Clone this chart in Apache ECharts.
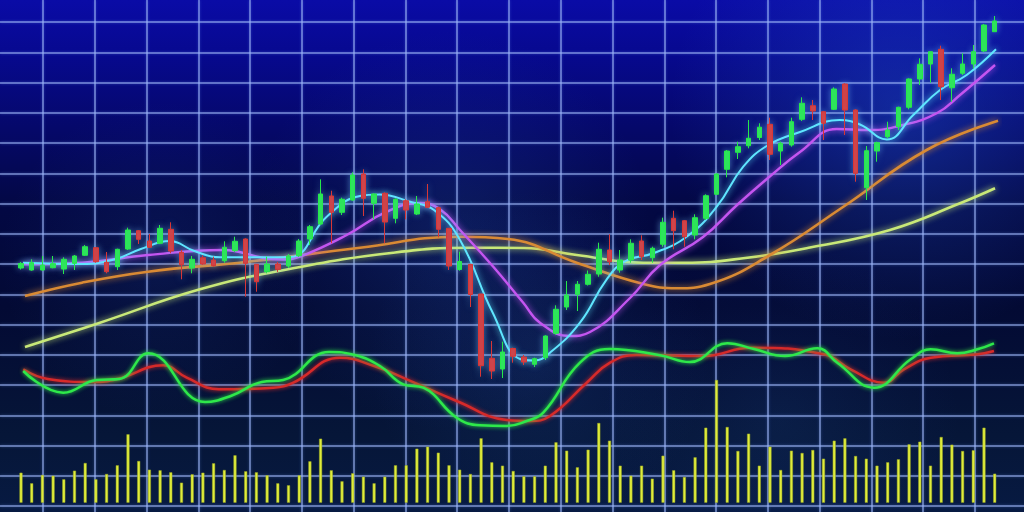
<!DOCTYPE html>
<html><head><meta charset="utf-8">
<script src="https://cdn.jsdelivr.net/npm/echarts@6/dist/echarts.min.js"></script>
<style>html,body{margin:0;padding:0;background:#030a42;}#c{width:1024px;height:512px;}</style>
</head><body><div id="c"></div>
<script>
// ---- DATA ----
const days = Array.from({length: 92}, (_, i) => 'D' + (i + 1));
// candles: [open, close, low, high]
const candles = [
[122,126.5,120.5,128],[120,127.3,119.3,130.7],[120,125,119.3,134],[122.3,126.3,121.7,134],[121,130.7,116,132.7],
[126.7,134,120,135],[134.7,143.3,134,145],[142.3,128.3,127.3,142.7],[127.7,118.3,116.7,138],[123.3,140.7,120,141.3],
[141,160,140,162.3],[159.3,150.7,146,160],[149,142.7,142,156],[146.7,161.7,146,165],[160.7,139,136.7,167.7],
[137.7,125.3,110.7,140],[122,130.7,116.7,134],[132.3,126,125.3,134.7],[130,124.3,123.3,133.3],[129.3,142.7,127.3,148.7],
[139.3,148.7,138,153.3],[151,126.7,93.3,151.7],[125.7,108.3,98.3,126],[118.3,126,116.7,133.3],[126,120.7,118,128],
[124,134,122,136],[134.3,149,133,151],[151,163.3,145,165],[166,196,165,210.7],[194,177.7,146.7,199.3],
[177.7,190.7,175,192.3],[190,215,189.3,217.7],[216,191.7,174,220.7],[186.7,196,170.7,196.7],[196.7,168,146.7,197.7],
[171.7,190.7,166.7,191.7],[189.3,180,170.7,190.7],[176,186,175,194],[188.3,182.7,182,206],[182.3,160.7,152.7,183.3],
[161.7,124,120,162],[120.5,128.5,119.3,138.3],[125.7,95.5,83,125.7],[96,24.3,13.3,96],[31.7,19,11,49],
[21,38,12,48.3],[41.5,33.7,27.3,42.3],[33,28,25,35],[25.7,31.3,23,32.3],[32.3,54,30,54.7],
[56.7,80.7,55.3,84.7],[83,95,80,109],[95.7,105.7,79,109],[105.7,115.7,104.5,119.5],[116,140.7,113.3,147.3],
[140,128.3,125,155.7],[120,130,117.3,140],[130,146.7,127.3,150.7],[149,133.3,130,154.7],[132.3,141.7,127.3,143.3],
[145.7,167.7,143.3,172.3],[171.7,159.3,140.7,179.3],[169.3,153.3,143.3,170],[155,172.3,150.7,175.7],[171.7,194.3,170,195.7],
[195.7,216,195,216.7],[220.7,239,212.7,240],[237.7,243.3,231,248.3],[244.3,251.7,241.7,270],[252.5,262.8,250,266.7],
[265.7,235.7,230,272.3],[239,246.7,225,248.3],[245,268.3,243.3,272.3],[270.7,286.7,269,292.7],[284.3,279,270,290],
[278.3,266.7,250,279],[280.7,301,280,302.7],[306,280,255,306.7],[280,216.7,208.3,280.7],[202.3,239.3,190,244],
[239,247.3,228.3,248.3],[253.3,260,251.7,268.3],[263.3,282.7,260,283.3],[282.7,311,280.7,311.7],[311,325.7,305,331.7],
[326,338.3,307.3,338.3],[340.7,303.3,290,344.3],[302.3,315.7,288.3,321.7],[316.7,326,315,336.7],[326,338.3,321.7,345],
[339,365,338,366],[358.3,369,358.3,374]
];
const volumes = [
30,19.4,27.7,27,23.4,32,39.7,23.4,28.7,37.4,68.4,41.7,33,32.4,30.4,20,28.4,30,39.4,32.7,
47.4,31.4,30.4,27.4,19.4,17.4,27.4,41.4,64,32.4,21.4,29.4,26,19.4,26,37.4,37.4,54,56,50,
37.4,33,28.7,64.4,40.4,37,31.7,26.4,26.4,37,60.4,52,35.4,53,79.7,62,37,27,37,24,
47,32.4,25.7,45.4,75,122.7,75.7,51.7,69,37,56,32.7,52,49.7,52.7,44,62,64.4,46.7,44,
37,40.4,43.4,58.4,61,37,65.7,58,51.7,52.4,75,29
];
// moving averages: [day index, price]
const maFast = [[0.19,127.3],[5.7,126],[8.79,130.7],[11.2,141],[13.9,149],[16.2,139],[18.6,132.7],[21.21,132.7],
[25.14,133],[28.57,173.3],[31.68,194],[33.5,195.5],[36.36,188.3],[38.6,180],[41.03,150],[44.11,76.7],[46.64,31],
[48,29.5],[49.44,37.3],[52.24,67.3],[54.74,110.7],[56.5,129],[59.09,136.7],[62.21,153.3],[65.02,183.3],[67.5,223.3],
[69.84,245],[72.8,258],[76.5,270],[78.41,265.5],[80.91,250.5],[83.39,275],[85.89,300],[88.38,315],[91.12,340.7]];
const maMid = [[0.19,125.7],[5.7,127.3],[11.87,135],[18.9,140],[22.8,131.7],[24.5,130.5],[26.07,133.3],[30.44,155],
[34.18,178.3],[37.3,187],[39.16,180.7],[41.03,160],[44.14,123.3],[46.94,87.3],[48.5,67.3],[51.31,54],[53.18,58],
[56.92,92],[59.72,125],[63.74,153],[66.92,185],[69.81,212],[72.8,238],[76.23,261],[79.35,260],[82.43,265],
[85.58,276.7],[87.76,295],[91.03,325]];
const maSlow = [[0.37,94],[5.7,107.3],[11.87,118.3],[21.21,128.3],[31.68,142.3],[41.03,153.3],[45.5,151],[51.93,127.3],
[58.16,106],[61.28,101.7],[64.39,106],[70,135],[76.82,183],[84.64,240],[91.31,269.3]];
const maLong = [[0.37,43],[7.38,67.3],[16.73,100.7],[25.42,121.7],[34.79,137.3],[42,142.3],[47,142],[51.93,135],
[58.16,127.3],[62,127.3],[67.5,131.7],[73.74,142.5],[81.21,160],[87.76,186.7],[91.03,201.7]];
// oscillator: [day index, value]
const oscFast = [[0.21,1.4],[3.95,-0.77],[7.07,0.5],[9.2,0.6],[11.9,3.17],[17.2,-1.7],[19.6,-1.1],[22.5,0.3],
[24.5,0.5],[28.8,3.3],[31.2,3.0],[33.55,1.9],[35.73,0.07],[37.6,-0.27],[40.72,-3.27],[42.9,-4.03],[45.39,-4.1],
[47.26,-3.6],[48.81,-2.77],[52.24,2.23],[55,3.6],[59.72,2.97],[62.5,2.3],[66.01,4.17],[68.5,3.6],[71.4,2.9],
[74.42,3.67],[76.29,2.23],[79.72,-0.27],[83.15,2.57],[85.02,3.57],[87.5,3.17],[89.38,3.57],[90.93,4.17]];
const oscSlow = [[0.21,1.57],[2.5,0.6],[6.75,0.3],[9,0.6],[13.29,1.97],[15.49,0.73],[18.5,-0.43],[23.58,-0.27],
[25.45,0.23],[29.81,2.73],[33,1.9],[36.05,0.57],[40.72,-1.6],[45.39,-3.5],[47.57,-3.6],[49.44,-3.1],[52.87,0.23],
[55.05,2.23],[57.5,3.0],[63.83,2.9],[68.2,3.73],[75.05,3.07],[77.53,1.57],[80.65,0.23],[82.52,1.57],[85.02,2.73],
[89.38,3.07],[90.93,3.4]];
const gridCols = 18, gridRows = 16;

// ---- CHART ----
const chart = echarts.init(document.getElementById('c'), null, {renderer: 'canvas'});
const L = 15.65, W = 984.4;
const hidden = {show: false};
const gridLineStyle = {color: 'rgba(158,182,245,0.75)', width: 1.5, shadowBlur: 3, shadowColor: 'rgba(120,160,255,0.5)'};
function glow(cx, cy, r, c) {
  return {type: 'circle', z: -10, silent: true, shape: {cx, cy, r},
    style: {fill: {type: 'radial', x: 0.5, y: 0.5, r: 0.5,
      colorStops: [{offset: 0, color: c}, {offset: 1, color: 'rgba(40,90,200,0)'}]}}};
}
function ma(data, color, width, z) {
  return {type: 'line', xAxisIndex: 2, yAxisIndex: 0, data, smooth: 0.45, showSymbol: false, z,
    lineStyle: {color, width, shadowBlur: 6, shadowColor: color}};
}
function osc(data, color) {
  return {type: 'line', xAxisIndex: 3, yAxisIndex: 2, data, smooth: 0.45, showSymbol: false, z: 3,
    lineStyle: {color, width: 2.5, shadowBlur: 4, shadowColor: color}};
}
chart.setOption({
  animation: false,
  backgroundColor: {type: 'linear', x: 0, y: 0, x2: 0, y2: 1, colorStops: [
    {offset: 0, color: '#0a0ba6'}, {offset: 0.1, color: '#070990'}, {offset: 0.25, color: '#05086a'},
    {offset: 0.4, color: '#030844'}, {offset: 0.6, color: '#030a34'}, {offset: 0.85, color: '#061638'}, {offset: 1, color: '#071a42'}]},
  graphic: [
    glow(900, 110, 230, 'rgba(40,100,230,0.35)'),
    glow(450, 230, 200, 'rgba(50,110,210,0.2)'),
    glow(540, 360, 170, 'rgba(50,110,210,0.16)'),
    glow(160, 260, 160, 'rgba(50,110,210,0.13)'),
    glow(780, 420, 180, 'rgba(50,110,210,0.1)')
  ],
  grid: [
    {left: L, width: W, top: 10, height: 380},
    {left: L, width: W, top: 372.7, height: 130},
    {left: L, width: W, top: 330, height: 110},
    {left: 43, width: 932, top: 0, height: 512},
    {left: 0, width: 1024, top: 22, height: 484}
  ],
  xAxis: [
    {type: 'category', gridIndex: 0, data: days, boundaryGap: true, show: false},
    {type: 'category', gridIndex: 1, data: days, boundaryGap: true, show: false},
    {type: 'value', gridIndex: 0, min: -0.5, max: 91.5, show: false},
    {type: 'value', gridIndex: 2, min: -0.5, max: 91.5, show: false},
    {type: 'value', gridIndex: 3, min: 0, max: gridCols, interval: 1, axisLine: hidden, axisTick: hidden, axisLabel: hidden,
      splitLine: {show: true, lineStyle: gridLineStyle}},
    {type: 'value', gridIndex: 4, min: 0, max: 1, show: false}
  ],
  yAxis: [
    {type: 'value', gridIndex: 0, min: 0, max: 380, show: false},
    {type: 'value', gridIndex: 1, min: 0, max: 130, show: false},
    {type: 'value', gridIndex: 2, min: -5.5, max: 5.5, show: false},
    {type: 'value', gridIndex: 3, min: 0, max: 1, show: false},
    {type: 'value', gridIndex: 4, min: 0, max: gridRows, interval: 1, axisLine: hidden, axisTick: hidden, axisLabel: hidden,
      splitLine: {show: true, lineStyle: gridLineStyle}}
  ],
  series: [
    {type: 'bar', xAxisIndex: 1, yAxisIndex: 1, data: volumes, barWidth: 3, z: 2,
      itemStyle: {color: '#e0ec3c', borderColor: '#9aa820', borderWidth: 0.5}},
    osc(oscSlow, '#d62a2a'),
    osc(oscFast, '#2ee84a'),
    ma(maLong, '#c8e878', 2.6, 3),
    ma(maSlow, '#d98a34', 2.6, 3),
    ma(maMid, '#c455f0', 2.4, 4),
    ma(maFast, '#5fe6ff', 2, 5),
    {type: 'candlestick', xAxisIndex: 0, yAxisIndex: 0, data: candles, barWidth: 5, z: 6,
      itemStyle: {color: '#26e84a', color0: '#d83636', borderColor: '#26e84a', borderColor0: '#d83636', borderWidth: 1,
        shadowBlur: 6, shadowColor: 'rgba(120,200,255,0.5)'}}
  ]
});
</script></body></html>
